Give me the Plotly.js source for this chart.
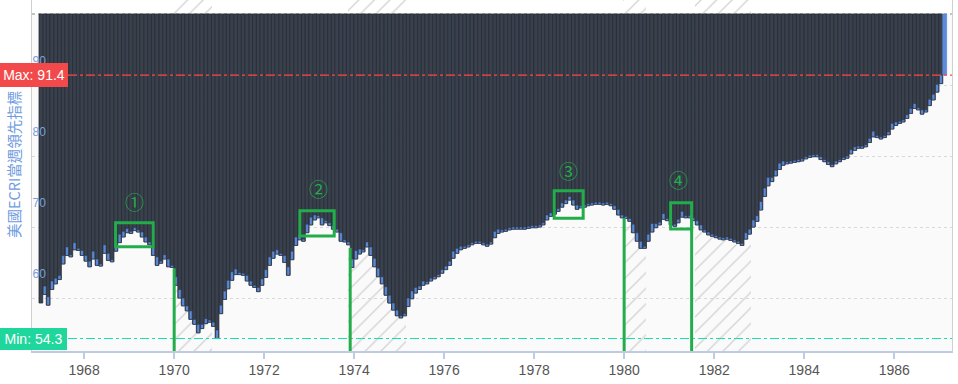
<!DOCTYPE html>
<html>
<head>
<meta charset="utf-8">
<script src="https://cdn.plot.ly/plotly-3.0.1.min.js"></script>
<style>html,body{margin:0;padding:0;background:#fff;}#chart{width:958px;height:384px;}</style>
</head>
<body>
<div id="chart"></div>
<script>
// Monthly readings of the US ECRI weekly leading index
const startYear = 1967;
const y1967 = [59.3, 60.5, 59.0, 61.2, 62.0, 62.6, 64.8, 66.0, 65.8, 66.8, 66.7, 66.0];
const y1968 = [65.2, 64.4, 65.5, 64.6, 64.5, 66.3, 65.3, 65.1, 66.6, 67.8, 68.6, 69.2];
const y1969 = [69.1, 69.5, 69.3, 68.6, 67.9, 67.5, 66.0, 64.6, 64.9, 65.5, 64.4, 64.3];
const y1970 = [61.8, 60.0, 58.9, 58.2, 57.0, 56.3, 55.1, 55.7, 56.4, 56.6, 56.0, 54.3];
const y1971 = [57.8, 59.8, 61.3, 62.5, 63.3, 63.3, 63.2, 62.4, 61.8, 61.5, 60.9, 61.8];
const y1972 = [62.9, 64.6, 65.6, 66.2, 66.0, 65.0, 63.2, 65.4, 67.4, 68.2, 68.0, 69.2];
const y1973 = [70.3, 71.0, 71.3, 70.3, 70.6, 70.2, 69.7, 69.3, 68.0, 67.9, 67.5, 64.3];
const y1974 = [65.5, 66.2, 66.5, 67.2, 66.0, 64.4, 63.0, 62.0, 60.4, 59.3, 58.3, 57.5];
const y1975 = [57.2, 57.5, 58.8, 59.9, 60.7, 61.2, 61.8, 62.0, 62.4, 62.7, 63.0, 63.5];
const y1976 = [64.0, 64.6, 65.6, 66.3, 66.8, 67.0, 67.2, 67.5, 67.7, 67.7, 67.5, 67.3];
const y1977 = [67.6, 68.5, 69.1, 69.3, 69.4, 69.6, 69.7, 69.7, 69.7, 69.7, 69.8, 69.9];
const y1978 = [69.9, 70.0, 70.3, 71.0, 71.5, 71.8, 72.2, 72.8, 73.3, 73.8, 73.1, 72.5];
const y1979 = [72.7, 72.8, 73.0, 73.1, 73.2, 73.2, 73.1, 73.2, 73.0, 72.5, 71.7, 71.3];
const y1980 = [71.2, 70.8, 69.2, 68.0, 67.0, 67.0, 68.0, 69.3, 69.9, 70.3, 71.1, 70.9];
const y1981 = [70.3, 70.1, 70.6, 71.4, 71.3, 71.3, 70.9, 70.3, 69.6, 69.3, 68.9, 68.7];
const y1982 = [68.5, 68.3, 68.2, 68.3, 68.1, 67.9, 67.7, 67.4, 68.3, 69.0, 70.0, 70.8];
const y1983 = [72.4, 74.3, 75.8, 76.4, 77.2, 78.1, 78.7, 78.9, 79.0, 79.1, 79.2, 79.3];
const y1984 = [79.6, 79.8, 79.9, 79.9, 79.5, 79.2, 78.8, 78.5, 78.9, 79.2, 79.5, 79.7];
const y1985 = [80.3, 80.8, 81.1, 81.1, 81.3, 81.9, 82.7, 82.6, 82.4, 82.6, 83.0, 83.8];
const y1986 = [84.3, 84.6, 84.8, 85.3, 86.0, 86.7, 86.5, 85.9, 86.2, 87.1, 87.9, 89.0];
const y1987 = [90.2, 91.4];

const maxValue = 91.4;
const minValue = 54.3;

// Recession periods (hatched)
const recessionStart = ['1969-12-20', '1973-11-10', '1979-12-25', '1981-07-27'];
const recessionEnd   = ['1970-11-01', '1975-03-01', '1980-06-28', '1982-10-27'];

const tickYears = ['1968', '1970', '1972', '1974', '1976', '1978', '1980', '1982', '1984', '1986'];
const yTicks = [60, 70, 80, 90];
const yTitle = '美國ECRI當週領先指標';
const markLabels = ['①', '②', '③', '④'];

// ---------- build ----------
const years = [y1967,y1968,y1969,y1970,y1971,y1972,y1973,y1974,y1975,y1976,y1977,y1978,y1979,y1980,y1981,y1982,y1983,y1984,y1985,y1986,y1987];
const values = [];
const months = [];
years.forEach((arr, yi) => {
  arr.forEach((v, mi) => {
    values.push(v);
    const mm = String(mi + 1).padStart(2, '0');
    months.push((startYear + yi) + '-' + mm + '-15');
  });
});
const DAY = 86400000;
const barTop = 100;
const yRange = [52.54, 101.97];

const n = values.length;
const darkColors = values.map((v, i) => i === n - 1 ? '#5b8bd9' : '#39414f');
const darkLines = values.map((v, i) => i === n - 1 ? '#5b8bd9' : '#272a30');

const darkBars = {
  type: 'bar', x: months, base: barTop, y: values.map(v => v - barTop),
  width: 30.44 * DAY,
  marker: {color: darkColors, line: {color: darkLines, width: 0.8}},
  hoverinfo: 'skip'
};

const tipBase = [], tipH = [], tipX = [];
for (let i = 1; i < n - 1; i++) {
  const d = Math.abs(values[i] - values[i - 1]);
  tipX.push(months[i]);
  tipBase.push(values[i]);
  tipH.push(Math.min(Math.max(d, 0.3), 1.2));
}
const tipBars = {
  type: 'bar', x: tipX, base: tipBase, y: tipH, width: 30.44 * DAY * 0.8,
  marker: {color: '#5a8ad4', line: {color: '#2b3448', width: 0.6}},
  hoverinfo: 'skip'
};

const recX = [], recW = [];
recessionStart.forEach((s, i) => {
  const a = Date.parse(s), b = Date.parse(recessionEnd[i]);
  recX.push(new Date((a + b) / 2).toISOString().slice(0, 19).replace('T', ' '));
  recW.push(b - a);
});
const recBars = {
  type: 'bar', x: recX, width: recW, base: yRange[0], y: recW.map(() => yRange[1] - yRange[0]),
  marker: {color: '#d2d2d2', line: {width: 0}, pattern: {shape: '/', size: 11, solidity: 0.12, fillmode: 'replace'}},
  hoverinfo: 'skip'
};

function dec(y) {
  const yr = Math.floor(y);
  const a = Date.UTC(yr, 0, 1), b = Date.UTC(yr + 1, 0, 1);
  return new Date(a + (y - yr) * (b - a)).toISOString().slice(0, 19).replace('T', ' ');
}

const green = '#22ad4a';
const vLines = [[1970.0, 64.2], [1973.911, 67.04], [1980.0, 71.27], [1981.498, 71.69]];
const boxes = [
  [1968.698, 1969.533, 67.23, 70.61],
  [1972.793, 1973.556, 68.73, 72.30],
  [1978.444, 1979.089, 71.23, 75.11],
  [1981.031, 1981.498, 69.72, 73.42]
];
const markPos = [[1969.111, 73.56], [1973.216, 75.49], [1978.756, 78.03], [1981.2, 76.72]];

const shapes = [
  {type: 'rect', xref: 'paper', x0: 0, x1: 1, yref: 'y', y0: barTop, y1: yRange[1], fillcolor: '#ffffff', line: {width: 0}, layer: 'below'},
  {type: 'line', xref: 'paper', x0: 0, x1: 1, yref: 'y', y0: barTop, y1: barTop, line: {color: '#8a8a8a', width: 1, dash: 'dot'}, layer: 'below'},
  {type: 'line', xref: 'paper', x0: 0, x1: 1, yref: 'y', y0: maxValue, y1: maxValue, line: {color: '#ff4646', width: 1.2, dash: 'dashdot'}},
  {type: 'line', xref: 'paper', x0: 0, x1: 1, yref: 'y', y0: minValue, y1: minValue, line: {color: '#14e3a6', width: 1, dash: 'dashdot'}}
];
vLines.forEach(([x, y]) => shapes.push({type: 'line', xref: 'x', yref: 'y', x0: dec(x), x1: dec(x), y0: y, y1: yRange[0], line: {color: green, width: 3}}));
boxes.forEach(([x0, x1, y0, y1]) => shapes.push({type: 'rect', xref: 'x', yref: 'y', x0: dec(x0), x1: dec(x1), y0: y0, y1: y1, line: {color: green, width: 3}, fillcolor: 'rgba(0,0,0,0)'}));

const annotations = [
  {xref: 'paper', x: 0, xanchor: 'left', xshift: -32, yref: 'y', y: maxValue, yanchor: 'middle', text: 'Max: 91.4', showarrow: false,
   width: 62, height: 18, borderpad: 3, borderwidth: 0,
   font: {color: '#ffffff', size: 14, family: 'Liberation Sans, Arial, sans-serif'}, bgcolor: '#f2494b'},
  {xref: 'paper', x: 0, xanchor: 'left', xshift: -32, yref: 'y', y: minValue, yanchor: 'middle', text: 'Min: 54.3', showarrow: false,
   width: 61, height: 16, borderpad: 3, borderwidth: 0,
   font: {color: '#ffffff', size: 14, family: 'Liberation Sans, Arial, sans-serif'}, bgcolor: '#1fd69c'},
  {xref: 'paper', x: 0, xanchor: 'center', yanchor: 'middle', xshift: -18, yref: 'paper', y: 0.53, text: yTitle, textangle: -90, showarrow: false,
   font: {color: '#6f9be0', size: 14.5, family: 'Noto Sans CJK TC, sans-serif'}}
];
markPos.forEach(([x, y], i) => annotations.push({xref: 'x', yref: 'y', x: dec(x), y: y, text: markLabels[i], showarrow: false,
  font: {color: green, size: 19, family: 'Noto Sans CJK SC, sans-serif'}}));

const layout = {
  width: 958, height: 384,
  margin: {l: 32, r: 6, t: 0, b: 33},
  paper_bgcolor: '#ffffff', plot_bgcolor: '#fafafa',
  barmode: 'overlay', bargap: 0, showlegend: false, hovermode: false,
  xaxis: {
    type: 'date', range: ['1966-11-04', '1987-04-15'],
    tickvals: tickYears.map(y => y + '-01-01'), ticktext: tickYears,
    ticks: 'outside', ticklen: 6, tickwidth: 1.5, tickcolor: '#bfcbe0',
    showline: true, linecolor: '#bfcbe0', linewidth: 1.5,
    showgrid: false, zeroline: false,
    tickfont: {size: 14, color: '#555555', family: 'Liberation Sans, Arial, sans-serif'}
  },
  yaxis: {
    range: yRange, tickvals: yTicks, ticktext: yTicks.map(String),
    ticklabelposition: 'inside', ticklabelshift: -24, ticks: '',
    tickfont: {size: 12, color: '#78a0dc', family: 'Liberation Sans, Arial, sans-serif'},
    showgrid: true, gridcolor: '#d8d8d8', griddash: 'dot', gridwidth: 1,
    showline: true, linecolor: '#d0d0d0', linewidth: 1, mirror: true,
    zeroline: false
  },
  shapes: shapes,
  annotations: annotations
};

Plotly.newPlot('chart', [recBars, darkBars, tipBars], layout, {staticPlot: true, displayModeBar: false});
</script>
</body>
</html>
